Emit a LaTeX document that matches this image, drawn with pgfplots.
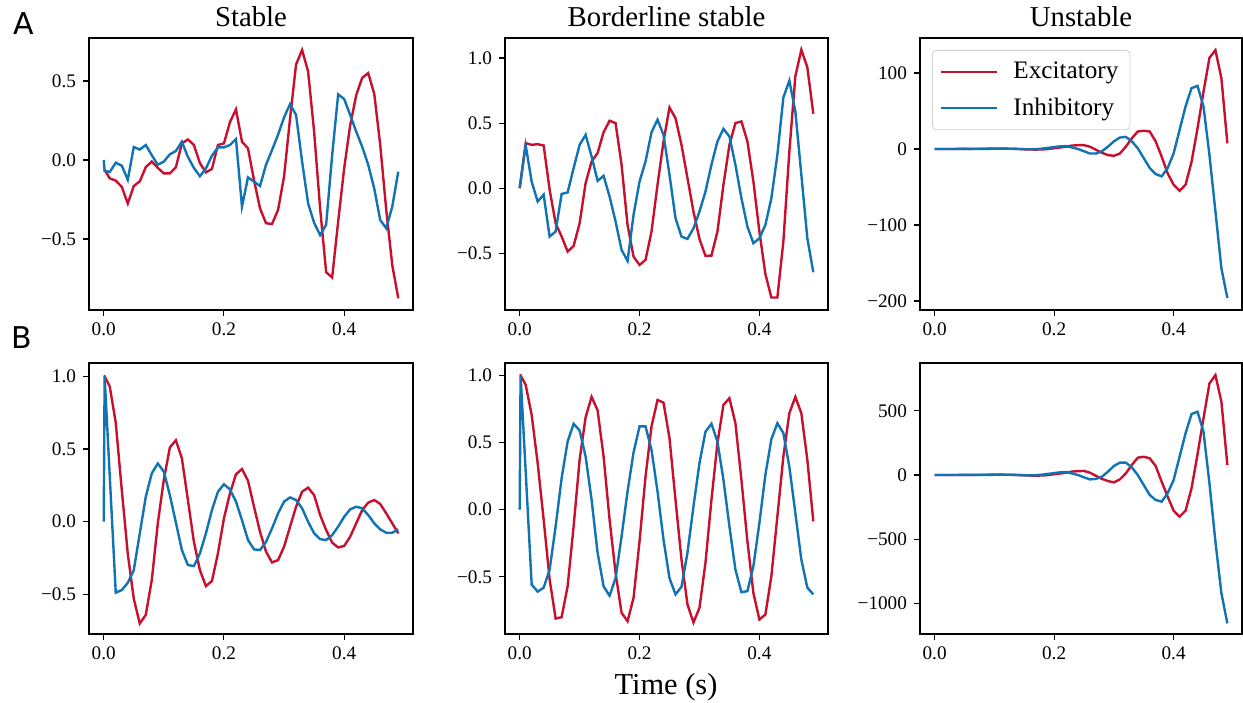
\documentclass[border=0pt]{standalone}
\usepackage{fontspec}
\setmainfont{Liberation Serif}
\newfontfamily\labelfont{DejaVu Sans}
\usepackage{pgfplots}
\usepackage{pgfplotstable}
\pgfplotsset{compat=1.18}

\definecolor{exc}{RGB}{200,16,46}
\definecolor{inh}{RGB}{16,115,180}

% t  E  I   (stable, noise driven)
\pgfplotstableread{
t E I
0 -0.063 0.0
0.0015 -0.063 -0.068
0.01 -0.116 -0.076
0.02 -0.13 -0.017
0.03 -0.17 -0.036
0.04 -0.275 -0.125
0.05 -0.165 0.082
0.06 -0.135 0.066
0.07 -0.045 0.095
0.08 -0.01 0.03
0.09 -0.05 -0.03
0.10 -0.085 -0.01
0.11 -0.085 0.036
0.12 -0.046 0.057
0.13 0.105 0.116
0.14 0.13 0.02
0.15 0.095 -0.05
0.16 -0.02 -0.103
0.17 -0.078 -0.053
0.18 -0.057 0.027
0.19 0.095 0.08
0.20 0.105 0.08
0.21 0.24 0.095
0.22 0.32 0.133
0.23 0.116 -0.295
0.24 0.074 -0.11
0.25 -0.127 -0.137
0.26 -0.306 -0.165
0.27 -0.40 -0.03
0.28 -0.405 0.063
0.29 -0.316 0.16
0.30 -0.105 0.27
0.31 0.264 0.354
0.32 0.605 0.285
0.33 0.696 -0.01
0.34 0.56 -0.274
0.35 0.18 -0.397
0.36 -0.306 -0.475
0.37 -0.71 -0.41
0.38 -0.743 0.03
0.39 -0.39 0.415
0.40 -0.053 0.386
0.41 0.22 0.285
0.42 0.41 0.18
0.43 0.52 0.084
0.44 0.55 -0.03
0.45 0.42 -0.18
0.46 0.095 -0.38
0.47 -0.316 -0.432
0.48 -0.665 -0.295
0.49 -0.875 -0.074
}\tabAa

\pgfplotstableread{
t E I
0 0 0
0.01 0.346 0.33
0.02 0.333 0.05
0.03 0.338 -0.103
0.04 0.328 -0.05
0.05 -0.013 -0.372
0.06 -0.27 -0.333
0.07 -0.372 -0.044
0.08 -0.487 -0.033
0.09 -0.444 0.154
0.10 -0.27 0.333
0.11 0.038 0.41
0.12 0.205 0.244
0.13 0.27 0.056
0.14 0.43 0.095
0.15 0.518 -0.064
0.16 0.5 -0.256
0.17 0.18 -0.474
0.18 -0.282 -0.559
0.19 -0.526 -0.205
0.20 -0.59 0.051
0.21 -0.551 0.205
0.22 -0.333 0.43
0.23 0.026 0.526
0.24 0.359 0.41
0.25 0.62 0.103
0.26 0.538 -0.23
0.27 0.333 -0.372
0.28 0.077 -0.39
0.29 -0.18 -0.308
0.30 -0.39 -0.18
0.31 -0.52 -0.026
0.32 -0.518 0.18
0.33 -0.333 0.359
0.34 0.026 0.456
0.35 0.333 0.397
0.36 0.5 0.18
0.37 0.513 -0.077
0.38 0.359 -0.295
0.39 0.051 -0.423
0.40 -0.333 -0.385
0.41 -0.66 -0.282
0.42 -0.84 -0.077
0.43 -0.84 0.256
0.44 -0.41 0.697
0.45 0.282 0.826
0.46 0.86 0.59
0.47 1.064 0.103
0.48 0.928 -0.385
0.49 0.572 -0.646
}\tabAb

\pgfplotstableread{
t E I
0 0 0
0.01 0 0
0.02 0 0
0.03 0 0
0.04 0.1 0
0.05 0.1 0.1
0.06 0.2 0
0.07 0.3 0
0.08 0.3 0.1
0.09 0.4 0.2
0.10 0.5 0.3
0.11 0.5 0.4
0.12 0.4 0.4
0.13 0.3 0.3
0.14 0 0
0.15 -0.4 -0.3
0.16 -0.7 -0.4
0.17 -0.8 -0.2
0.18 -0.6 0.5
0.19 0 1.5
0.20 1.0 2.5
0.21 2.0 3.5
0.22 3.0 3.8
0.23 4.5 2.0
0.24 5.0 0
0.25 5.0 -3
0.26 3.0 -6
0.27 -1.0 -6
0.28 -5 -3
0.29 -8 3
0.30 -9 10
0.31 -6 15
0.32 3 16
0.33 14 10
0.34 23 1
0.35 24 -12
0.36 23 -25
0.37 10 -33
0.38 -10 -36
0.39 -32 -25
0.40 -47 -6
0.41 -55 25
0.42 -47 56
0.43 -17 80
0.44 27 83
0.45 75 56
0.46 120 -8
0.47 130 -82
0.48 93 -157
0.49 7.5 -196
}\tabAc

\pgfplotstableread{
t E I
0 1.0 0
0.0015 1.0 1.0
0.01 0.93 0.316
0.02 0.68 -0.488
0.03 0.22 -0.47
0.04 -0.22 -0.42
0.05 -0.53 -0.333
0.06 -0.70 -0.08
0.07 -0.64 0.172
0.08 -0.40 0.333
0.09 -0.01 0.40
0.10 0.29 0.344
0.11 0.51 0.183
0.12 0.56 -0.005
0.13 0.436 -0.195
0.14 0.15 -0.298
0.15 -0.138 -0.305
0.16 -0.333 -0.218
0.17 -0.443 -0.08
0.18 -0.408 0.08
0.19 -0.218 0.206
0.20 0.023 0.257
0.21 0.195 0.222
0.22 0.326 0.138
0.23 0.362 0.011
0.24 0.282 -0.126
0.25 0.103 -0.19
0.26 -0.069 -0.195
0.27 -0.206 -0.138
0.28 -0.28 -0.046
0.29 -0.264 0.057
0.30 -0.172 0.138
0.31 -0.034 0.167
0.32 0.103 0.149
0.33 0.206 0.092
0.34 0.234 0.0
0.35 0.183 -0.08
0.36 0.046 -0.12
0.37 -0.057 -0.126
0.38 -0.144 -0.092
0.39 -0.177 -0.034
0.40 -0.167 0.034
0.41 -0.103 0.085
0.42 -0.011 0.103
0.43 0.08 0.092
0.44 0.131 0.046
0.45 0.149 -0.011
0.46 0.122 -0.053
0.47 0.057 -0.076
0.48 -0.011 -0.076
0.49 -0.08 -0.053
}\tabBa

\pgfplotstableread{
t E I
0 1.0 0
0.0015 1.0 1.0
0.01 0.93 0.285
0.02 0.705 -0.557
0.03 0.347 -0.61
0.04 -0.074 -0.58
0.05 -0.52 -0.446
0.06 -0.81 -0.124
0.07 -0.80 0.235
0.08 -0.57 0.507
0.09 -0.124 0.64
0.10 0.371 0.59
0.11 0.688 0.396
0.12 0.84 0.074
0.13 0.74 -0.32
0.14 0.396 -0.57
0.15 -0.074 -0.64
0.16 -0.47 -0.51
0.17 -0.767 -0.2
0.18 -0.83 0.136
0.19 -0.656 0.426
0.20 -0.235 0.62
0.21 0.247 0.62
0.22 0.62 0.446
0.23 0.817 0.136
0.24 0.797 -0.223
0.25 0.532 -0.51
0.26 0.074 -0.63
0.27 -0.371 -0.574
0.28 -0.705 -0.32
0.29 -0.84 0.025
0.30 -0.73 0.347
0.31 -0.396 0.58
0.32 0.074 0.64
0.33 0.495 0.507
0.34 0.78 0.223
0.35 0.83 -0.124
0.36 0.644 -0.446
0.37 0.223 -0.614
0.38 -0.235 -0.606
0.39 -0.62 -0.42
0.40 -0.817 -0.1
0.41 -0.78 0.26
0.42 -0.495 0.525
0.43 -0.05 0.644
0.44 0.396 0.57
0.45 0.718 0.32
0.46 0.84 -0.025
0.47 0.718 -0.371
0.48 0.371 -0.58
0.49 -0.087 -0.63
}\tabBb

\pgfplotstableread{
t E I
0 0 0
0.01 0 0
0.02 0 0
0.03 0 0
0.04 0.6 0
0.05 0.6 0.6
0.06 1.2 0
0.07 1.8 0
0.08 1.8 0.6
0.09 2.4 1.2
0.10 3 1.8
0.11 3 2.4
0.12 2.4 2.4
0.13 1.8 1.8
0.14 0 0
0.15 -2.4 -1.8
0.16 -4.2 -2.4
0.17 -4.8 -1.2
0.18 -3.6 3
0.19 0 9
0.20 6 15
0.21 12 21
0.22 18 23
0.23 27 12
0.24 30 0
0.25 32 -18
0.26 18 -34
0.27 -6 -30
0.28 -30 -13
0.29 -47 26
0.30 -57 70
0.31 -34 96
0.32 13 96
0.33 78 60
0.34 135 0
0.35 142 -78
0.36 130 -155
0.37 70 -194
0.38 -52 -207
0.39 -168 -142
0.40 -277 -39
0.41 -324 142
0.42 -277 324
0.43 -104 474
0.44 160 492
0.45 440 337
0.46 712 -65
0.47 777 -518
0.48 570 -920
0.49 78 -1153
}\tabBc

\pgfplotsset{
  panel/.style={
    anchor=south west,
    scale only axis,
    xmin=-0.0245, xmax=0.5145,
    xtick={0,0.2,0.4},
    xticklabels={0.0,0.2,0.4},
    axis line style={line width=0.55pt},
    tick style={line width=0.55pt, black},
    major tick length=3pt,
    tick align=outside,
    xtick pos=bottom, ytick pos=left,
    tick label style={font=\fontsize{9.6}{11}\selectfont},
    clip=true,
  },
  exc/.style={color=exc, line width=1.2pt},
  inh/.style={color=inh, line width=1.2pt},
}

\begin{document}
\begin{tikzpicture}
\useasboundingbox (0,0) rectangle (621.5pt,351pt);

% top row
\begin{axis}[panel, at={(44.5pt,196pt)}, width=162pt, height=136pt,
  ymin=-0.949, ymax=0.772,
  ytick={-0.5,0,0.5}, yticklabels={−0.5,0.0,0.5}]
\addplot[exc] table[x=t,y=E] {\tabAa};
\addplot[inh] table[x=t,y=I] {\tabAa};
\end{axis}

\begin{axis}[panel, at={(252.5pt,196pt)}, width=161.5pt, height=136pt,
  ymin=-0.936, ymax=1.154,
  ytick={-0.5,0,0.5,1}, yticklabels={−0.5,0.0,0.5,1.0}]
\addplot[exc] table[x=t,y=E] {\tabAb};
\addplot[inh] table[x=t,y=I] {\tabAb};
\end{axis}

\begin{axis}[panel, at={(460pt,196pt)}, width=161pt, height=136pt,
  ymin=-211.8, ymax=146,
  ytick={-200,-100,0,100}, yticklabels={−200,−100,0,100},
  legend style={at={(axis description cs:0,1)}, anchor=north west,
    xshift=6pt, yshift=-6pt, draw=black!18, rounded corners=2pt,
    fill=white, fill opacity=0.85, text opacity=1,
    font=\fontsize{12.6}{15}\selectfont,
    inner xsep=3.8pt, inner ysep=3.8pt, row sep=4pt, column sep=5.5pt},
  legend cell align=left,
  legend image code/.code={\draw[#1] (0pt,0pt) -- (28pt,0pt);}]
\addplot[exc] table[x=t,y=E] {\tabAc};
\addlegendentry{Excitatory}
\addplot[inh] table[x=t,y=I] {\tabAc};
\addlegendentry{Inhibitory}
\end{axis}

% bottom row
\begin{axis}[panel, at={(44.5pt,34pt)}, width=162pt, height=135.5pt,
  ymin=-0.772, ymax=1.091,
  ytick={-0.5,0,0.5,1}, yticklabels={−0.5,0.0,0.5,1.0}]
\addplot[exc] table[x=t,y=E] {\tabBa};
\addplot[inh] table[x=t,y=I] {\tabBa};
\end{axis}

\begin{axis}[panel, at={(252.5pt,34pt)}, width=161.5pt, height=135.5pt,
  ymin=-0.925, ymax=1.092,
  ytick={-0.5,0,0.5,1}, yticklabels={−0.5,0.0,0.5,1.0}]
\addplot[exc] table[x=t,y=E] {\tabBb};
\addplot[inh] table[x=t,y=I] {\tabBb};
\end{axis}

\begin{axis}[panel, at={(460pt,34pt)}, width=161pt, height=135.5pt,
  ymin=-1236, ymax=871,
  ytick={-1000,-500,0,500}, yticklabels={−1000,−500,0,500}]
\addplot[exc] table[x=t,y=E] {\tabBc};
\addplot[inh] table[x=t,y=I] {\tabBc};
\end{axis}

% titles and labels
\node[anchor=base, font=\fontsize{14.4}{16}\selectfont] at (125.5pt,337.5pt) {Stable};
\node[anchor=base, font=\fontsize{14.4}{16}\selectfont] at (333.25pt,337.5pt) {Borderline stable};
\node[anchor=base, font=\fontsize{14.4}{16}\selectfont] at (540.5pt,337.5pt) {Unstable};
\node[anchor=base, font=\fontsize{15.2}{17}\selectfont] at (333pt,4pt) {Time (s)};
\node[font=\labelfont\fontsize{15}{17}\selectfont] at (12pt,339pt) {A};
\node[font=\labelfont\fontsize{15}{17}\selectfont] at (11pt,182pt) {B};
\end{tikzpicture}
\end{document}
